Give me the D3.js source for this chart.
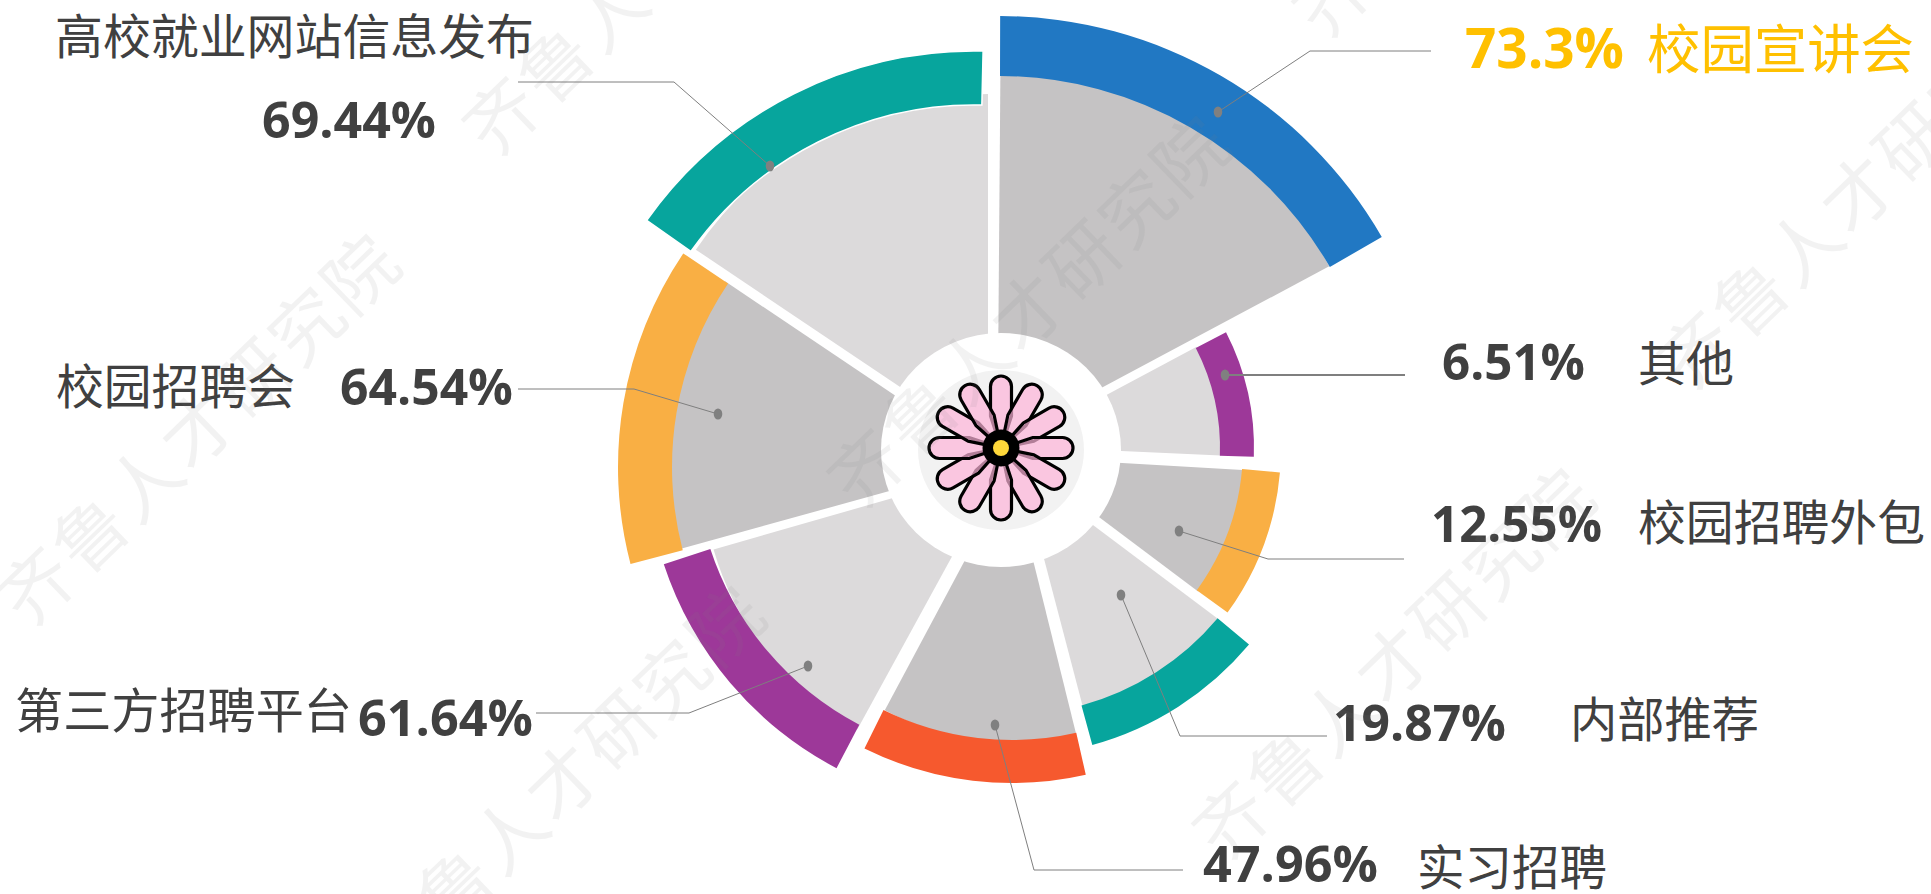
<!DOCTYPE html>
<html>
<head>
<meta charset="utf-8">
<script src="https://cdn.jsdelivr.net/npm/d3@7/dist/d3.min.js"></script>
<style>
  html, body { margin: 0; padding: 0; background: #fff; }
  svg { display: block; }
  .num { font-family: "Open Sans", sans-serif; font-weight: 700; }
  .name { font-family: "Noto Sans CJK SC", sans-serif; font-weight: 400; }
  .mark { font-family: "Noto Sans CJK SC", sans-serif; }
</style>
</head>
<body>
<div id="chart"></div>
<script>
// Recruitment channels, clockwise from the top
const names = ['校园宣讲会', '其他', '校园招聘外包', '内部推荐', '实习招聘', '第三方招聘平台', '校园招聘会', '高校就业网站信息发布'];
const values = [73.3, 6.51, 12.55, 19.87, 47.96, 61.64, 64.54, 69.44];
const valueText = ['73.3%', '6.51%', '12.55%', '19.87%', '47.96%', '61.64%', '64.54%', '69.44%'];

// Look of each slice
const ringColors = ['#2178c3', '#9d3899', '#f9af44', '#07a59d', '#f6592e', '#9d3899', '#f9af44', '#07a59d'];
const wedgeColors = ['#c5c3c4', '#dcdadb', '#c5c3c4', '#dcdadb', '#c5c3c4', '#dcdadb', '#c5c3c4', '#dcdadb'];

// Angles in degrees. The slices are not quite a true pie,
// every one has its own centre for the wedge and for the ring.
const wedgeFrom = [0.45, 61.9, 93.3, 126.9, 166.1, 208.7, 254.5, 303.9];
const wedgeTo = [61.9, 92.6, 126.9, 165.3, 208.1, 254, 303.9, 360];
const wedgeRadius = [376, 210, 224, 247, 269, 299, 324, 352];
const wedgeCentres = [[997.5, 443.4], [1011, 446], [1019, 457], [1021, 471], [1011.5, 473], [1001, 467], [994, 462], [988, 446]];

const ringFrom = [0.15, 62.8, 95, 130, 167.2, 207.7, 255.3, 305.3];
const ringTo = [60, 92, 126, 164.7, 206.3, 251.8, 304, 361.3];
const ringWidth = [60, 34, 38, 41, 43, 49, 54, 54];
const ringCentres = [[999, 458], [1001, 448], [1001, 448], [1010, 444], [1012, 450], [1002, 453], [1000, 467], [974, 452]];

// Outer radius by value
const sortedValues = [6.51, 12.55, 19.87, 47.96, 61.64, 64.54, 69.44, 73.3];
const sortedRadius = [253, 280, 312, 333, 356, 382, 401, 442];

// Leader lines: dot first, then the elbow and the end by the label
const leaders = [
    [[1218, 112], [1310, 51], [1431, 51]],
    [[1225, 375], [1405, 375]],
    [[1179, 531], [1268, 559], [1404, 559]],
    [[1121, 595], [1180, 736], [1327, 736]],
    [[995, 725], [1034, 870], [1183, 870]],
    [[808, 666], [689, 713], [536, 713]],
    [[718, 414], [634, 389], [518, 389]],
    [[770, 166], [674, 82], [518, 82]]
];

// Label placement: [left, right, baseline, font size]
const numberBoxes = [
    [1465, 1624, 68, 56], [1442, 1585, 380, 50], [1431, 1602, 542, 50], [1333, 1506, 741, 50],
    [1203, 1378, 882, 50], [358, 533, 736, 50], [340, 513, 405, 50], [262, 436, 138, 50]
];
const nameBoxes = [
    [1647, 1914, 69, 53], [1638, 1734, 381, 48], [1638, 1925, 540, 48], [1570, 1759, 737, 48],
    [1417, 1607, 885, 48], [15, 352, 728, 48], [56, 295, 404, 48], [55, 534, 54, 48]
];

// Repeating watermark: where the first glyph of each copy sits
const watermarkText = '齐鲁人才研究院';
const watermarkStarts = [[37, 587], [502, 117], [867, 469], [402, 939], [1232, 821], [1697, 351], [1332, -1]];

const width = 1931, height = 894;
const hub = { x: 1001, y: 450, flowerY: 448 };

const svg = d3.select('#chart').append('svg')
    .attr('width', width)
    .attr('height', height);

const radius = d3.scaleLinear().domain(sortedValues).range(sortedRadius);
const rad = d => d * Math.PI / 180;

// Wedges first, the rings go over their outer edge
const wedgeArc = d3.arc().innerRadius(0);
svg.append('g').selectAll('path')
    .data(values)
    .enter().append('path')
    .attr('transform', (d, i) => `translate(${wedgeCentres[i]})`)
    .attr('fill', (d, i) => wedgeColors[i])
    .attr('d', (d, i) => wedgeArc({
        outerRadius: wedgeRadius[i],
        startAngle: rad(wedgeFrom[i]),
        endAngle: rad(wedgeTo[i])
    }));

const ringArc = d3.arc();
svg.append('g').selectAll('path')
    .data(values)
    .enter().append('path')
    .attr('transform', (d, i) => `translate(${ringCentres[i]})`)
    .attr('fill', (d, i) => ringColors[i])
    // only the teal ring at the top left has a thin white edge
    .attr('stroke', (d, i) => i === 7 ? '#fff' : 'none')
    .attr('stroke-width', 1.5)
    .attr('d', (d, i) => ringArc({
        innerRadius: radius(d) - ringWidth[i],
        outerRadius: radius(d),
        startAngle: rad(ringFrom[i]),
        endAngle: rad(ringTo[i])
    }));

// Centre hole and the flower
svg.append('ellipse')
    .attr('cx', hub.x).attr('cy', hub.y)
    .attr('rx', 120).attr('ry', 117)
    .attr('fill', '#fff');
svg.append('ellipse')
    .attr('cx', hub.x).attr('cy', hub.y)
    .attr('rx', 83).attr('ry', 80)
    .attr('fill', '#f2f2f2');

function petalPath() {
    const p = d3.path();
    p.moveTo(0, 0);
    p.lineTo(-10.5, -32);
    p.lineTo(-10.5, -61.5);
    p.arc(0, -61.5, 10.5, Math.PI, 0);
    p.lineTo(10.5, -32);
    p.closePath();
    return p.toString();
}

const flower = svg.append('g')
    .attr('transform', `translate(${hub.x},${hub.flowerY})`);
flower.selectAll('path')
    .data(d3.range(12))
    .enter().append('path')
    .attr('d', petalPath())
    .attr('transform', d => `rotate(${d * 30})`)
    .attr('fill', '#fdb4d8')
    .attr('fill-opacity', 0.7)
    .attr('stroke', '#000')
    .attr('stroke-width', 3.2)
    .attr('stroke-linejoin', 'round');
flower.append('circle').attr('r', 18.5).attr('fill', '#000');
flower.append('circle').attr('r', 8).attr('fill', '#ffd83a');

// Leader lines and dots
const leaderLine = d3.line();
svg.append('g').selectAll('path')
    .data(leaders)
    .enter().append('path')
    .attr('d', leaderLine)
    .attr('fill', 'none')
    .attr('stroke', '#7f7f7f')
    .attr('stroke-width', (d, i) => i === 1 ? 2 : 1);
svg.append('g').selectAll('ellipse')
    .data(leaders)
    .enter().append('ellipse')
    .attr('cx', d => d[0][0])
    .attr('cy', d => d[0][1])
    .attr('rx', 4.3)
    .attr('ry', 5.5)
    .attr('fill', '#808080');

// Labels, the first one is highlighted
function addLabels(cls, texts, boxes) {
    svg.append('g').selectAll('text')
        .data(texts)
        .enter().append('text')
        .attr('class', cls)
        .attr('x', (d, i) => boxes[i][0])
        .attr('y', (d, i) => boxes[i][2])
        .attr('textLength', (d, i) => boxes[i][1] - boxes[i][0])
        .attr('lengthAdjust', 'spacingAndGlyphs')
        .attr('font-size', (d, i) => boxes[i][3])
        .attr('fill', (d, i) => i === 0 ? '#ffc000' : '#404040')
        .text(d => d);
}
addLabels('num', valueText, numberBoxes);
addLabels('name', names, nameBoxes);

// Watermark on top of everything
svg.append('g').selectAll('text')
    .data(watermarkStarts)
    .enter().append('text')
    .attr('class', 'mark')
    .attr('transform', d => `translate(${d}) rotate(-44)`)
    .attr('x', -36)
    .attr('y', 26)
    .attr('font-size', 72)
    .attr('letter-spacing', 3)
    .attr('fill', '#808080')
    .attr('fill-opacity', 0.1)
    .text(watermarkText);
</script>
</body>
</html>
